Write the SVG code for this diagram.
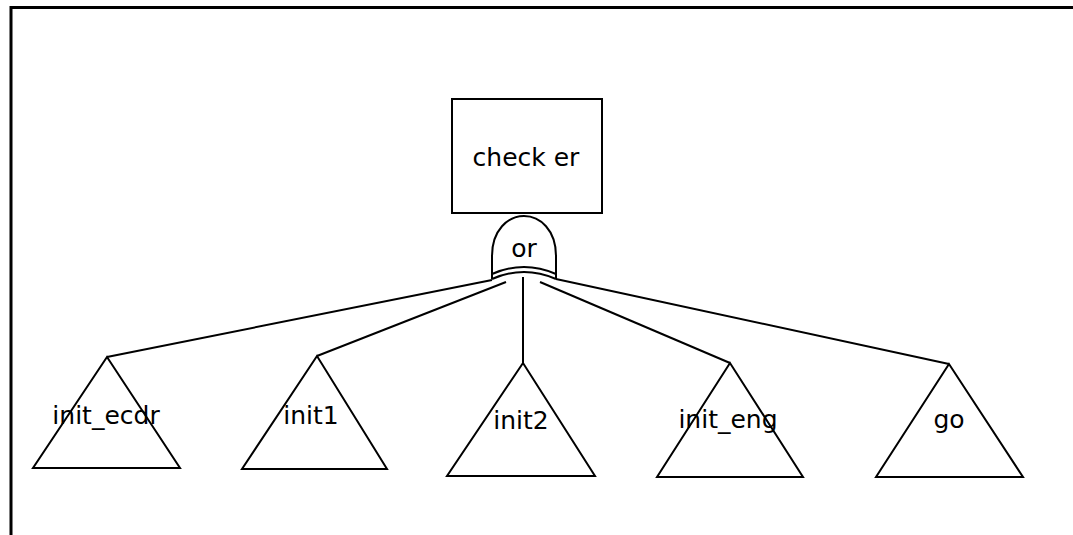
<svg xmlns="http://www.w3.org/2000/svg" width="1073" height="535" viewBox="0 0 1073 535">
  <style>
    .ln { fill: none; stroke: #000; stroke-width: 2; stroke-linejoin: miter; }
    .shape { fill: #fff; stroke: #000; stroke-width: 2; }
    .lbl { font-family: "DejaVu Sans", "Liberation Sans", sans-serif; font-size: 25px; fill: #000; text-anchor: middle; }
  </style>
  <rect width="1073" height="535" fill="#fff"/>
  <!-- outer frame: only top and left edges show -->
  <path d="M11,535 L11,7.5 L1073,7.5" fill="none" stroke="#000" stroke-width="3"/>

  <!-- connectors from the or-gate to each subtree -->
  <g id="connectors" class="ln">
    <line x1="492" y1="280" x2="107" y2="357"/>
    <line x1="506" y1="282" x2="317" y2="356"/>
    <line x1="523" y1="277" x2="523" y2="363"/>
    <line x1="540" y1="282" x2="730" y2="363"/>
    <line x1="556" y1="279" x2="949" y2="364"/>
  </g>

  <g id="checker">
    <rect class="shape" x="452" y="99" width="150" height="114"/>
    <text class="lbl" x="526" y="166">check er</text>
  </g>

  <g id="or-gate">
    <path class="ln" d="M492,279 L492,256 C492,230 508,216 524,216 C540,216 556,230 556,256 L556,279"/>
    <path class="ln" d="M492,274 Q524,260 556,274"/>
    <path class="ln" d="M492,279 Q524,265 556,279"/>
    <text class="lbl" x="524" y="257">or</text>
  </g>

  <g id="init_ecdr">
    <polygon class="ln" points="107,357 33,468 180,468"/>
    <text class="lbl" x="106" y="424">init_ecdr</text>
  </g>

  <g id="init1">
    <polygon class="ln" points="317,356 242,469 387,469"/>
    <text class="lbl" x="311" y="424">init1</text>
  </g>

  <g id="init2">
    <polygon class="ln" points="523,363 447,476 595,476"/>
    <text class="lbl" x="521" y="429">init2</text>
  </g>

  <g id="init_eng">
    <polygon class="ln" points="730,363 657,477 803,477"/>
    <text class="lbl" x="728" y="428">init_eng</text>
  </g>

  <g id="go">
    <polygon class="ln" points="949,364 876,477 1023,477"/>
    <text class="lbl" x="949" y="428">go</text>
  </g>
</svg>
